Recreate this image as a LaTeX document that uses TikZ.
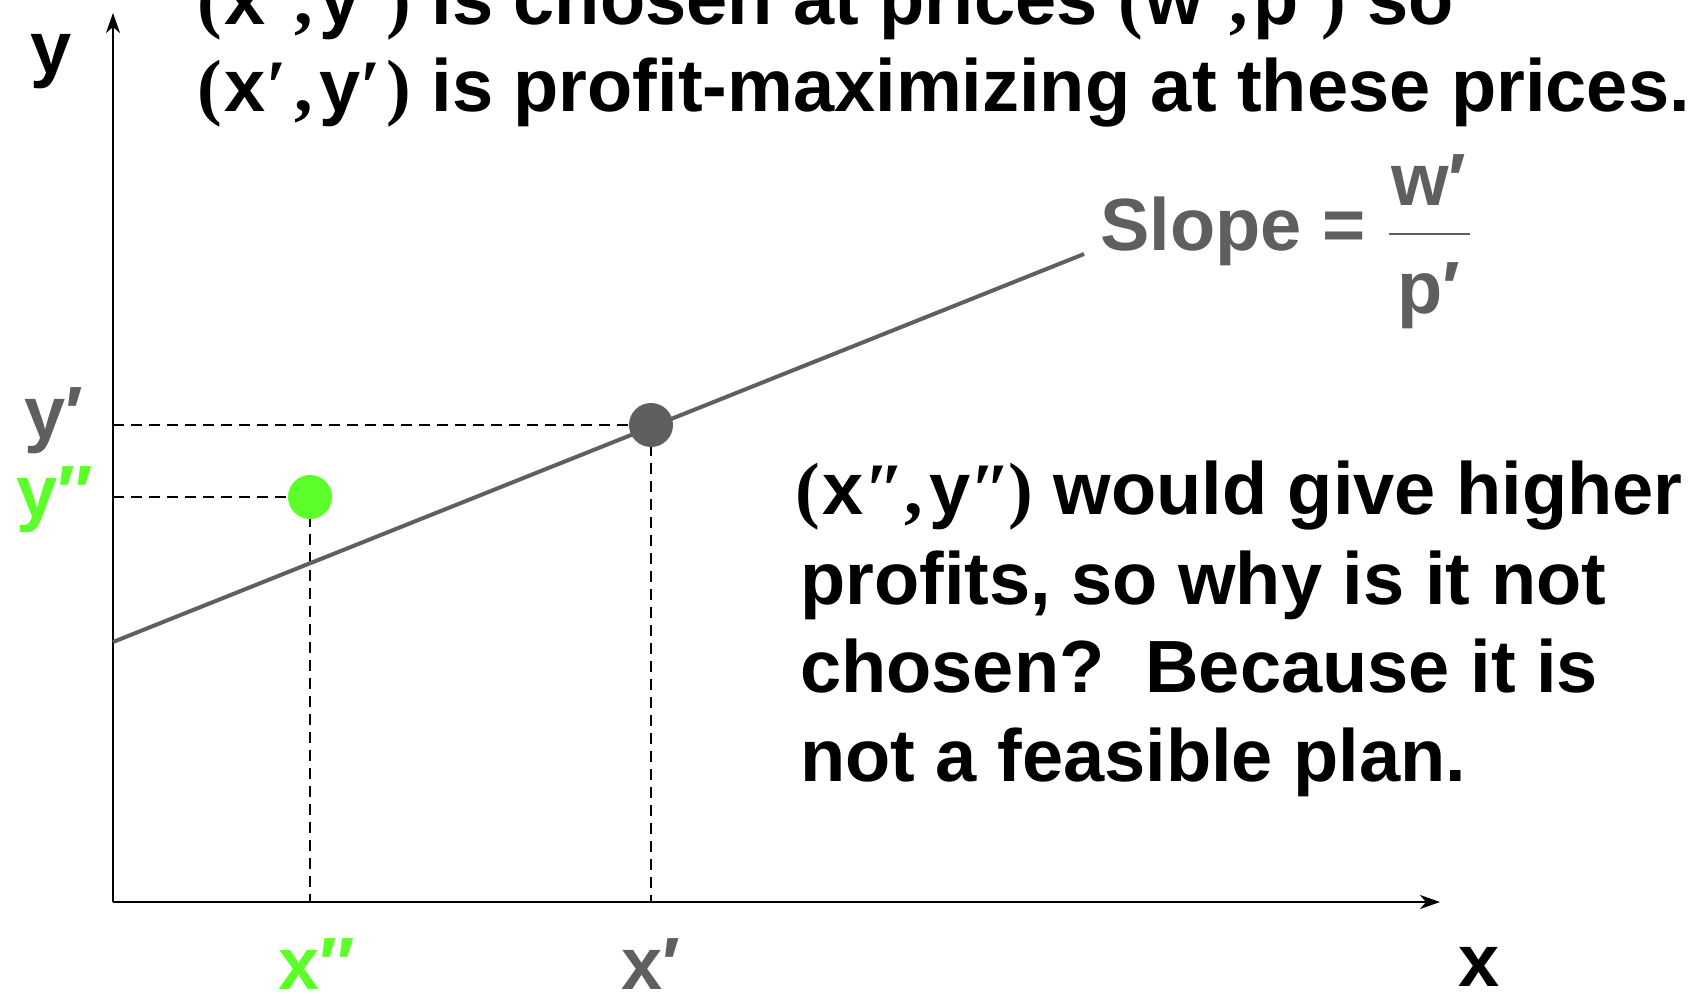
\documentclass[tikz,border=0pt]{standalone}
\usepackage{fontspec}
\setmainfont{Liberation Sans}
\newfontfamily\parfont{Liberation Serif}
\usetikzlibrary{arrows.meta}
\definecolor{dgray}{RGB}{95,95,95}
\definecolor{lgreen}{RGB}{92,255,42}
% (a',b') group: #1 extra space after primes, #2 #3 letters, #4 prime mark
\newcommand\pp[4][0pt]{{\parfont(}\kern3pt #2{\parfont #4}\kern\dimexpr8pt+#1\relax{\parfont,}\kern6pt #3{\parfont #4}\kern\dimexpr5pt+#1\relax{\parfont)}}
\begin{document}
\begin{tikzpicture}[x=1pt,y=-1pt,
  txt/.style={inner sep=0pt, anchor=base west, font=\fontsize{74}{88}\selectfont\bfseries},
  guide/.style={draw=black, line width=2pt, dash pattern=on 11pt off 7pt},
  axis/.style={draw=black, line width=2pt, -{Stealth[length=20pt,width=14pt,inset=6pt]}},
  dot/.style={circle, inner sep=0pt, minimum size=44pt}]
\useasboundingbox (0,0) rectangle (1691,994);
\clip (0,0) rectangle (1691,994);
\fill[white] (0,0) rectangle (1691,994);
% axes
\coordinate (O) at (113,902);
\coordinate (ytop) at (113,13);
\coordinate (xend) at (1440,902);
\draw[axis] (O) -- (ytop);
\draw[axis] (O) -- (xend);
% points
\coordinate (c1) at (651,425);
\coordinate (c2) at (310,497);
\draw[guide] (O |- c1) -- (c1) -- (c1 |- O);
\draw[guide] (O |- c2) -- (c2) -- (c2 |- O);
% budget line
\coordinate (L0) at (113,642);
\coordinate (L1) at (1084,254);
\draw[dgray, line width=4pt] (L0) -- (L1);
\node[dot, fill=dgray] (P1) at (c1) {};
\node[dot, fill=lgreen] (P2) at (c2) {};
% axis labels
\node[txt] (ly) at (30,73) {y};
\node[txt, text=dgray] (lyp) at (24,438) {y′};
\node[txt, text=lgreen] (lypp) at (16,517) {y″};
\node[txt, text=lgreen] (lxpp) at (278,989) {x″};
\node[txt, text=dgray] (lxp) at (621,989) {x′};
\node[txt] (lx) at (1458,986) {x};
% slope label
\node[txt, text=dgray] (slope) at (1100,250) {Slope =};
\node[txt, text=dgray, anchor=base] (num) at (1429,205) {w′};
\node[txt, text=dgray, anchor=base] (den) at (1429,313) {p′};
\coordinate (b0) at (1389,234);
\coordinate (b1) at (1470,234);
\draw[dgray, line width=2pt] (b0) -- (b1);
% top text
\node[txt] (t1) at (197,24) {\pp{x}{y}{′} is chosen at prices \pp[-3pt]{w}{p}{′} so};
\node[txt] (t2) at (197,111) {\pp{x}{y}{′} is profit-maximizing at these prices.};
% lower paragraph
\node[txt] (p1) at (795,514) {\pp[-8pt]{x}{y}{″} would give higher};
\node[txt] (p2) at (800,604) {profits, so why is it not};
\node[txt] (p3) at (800,692) {chosen?\ \ Because it is};
\node[txt] (p4) at (800,781) {not a feasible plan.};
\end{tikzpicture}
\end{document}
